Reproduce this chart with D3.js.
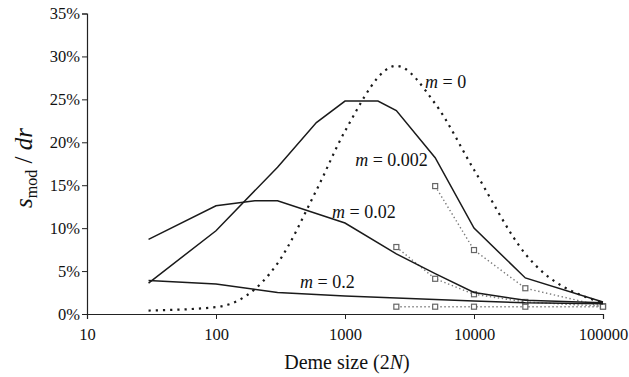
<!DOCTYPE html>
<html>
<head>
<meta charset="utf-8">
<script src="https://cdn.jsdelivr.net/npm/d3@7"></script>
<style>
  body { margin: 0; background: #fff; }
</style>
</head>
<body>
<div id="chart"></div>
<script>
// model curves (deme size -> s_mod/dr, in %)
var m0X = [30, 100, 300, 600, 1000, 2500, 5000, 10000, 25000, 100000];
var m0Y = [0.4, 0.8, 5.9, 14.4, 21.3, 28.9, 24.5, 16.8, 7.0, 1.3];

var m002X = [30, 100, 300, 600, 1000, 1800, 2500, 5000, 10000, 25000, 100000];
var m002Y = [3.6, 9.7, 17.1, 22.3, 24.8, 24.8, 23.7, 18.2, 10.0, 4.2, 1.4];

var m02X = [30, 100, 200, 300, 1000, 2500, 5000, 10000, 25000, 100000];
var m02Y = [8.7, 12.6, 13.2, 13.2, 10.6, 7.0, 4.7, 2.5, 1.6, 1.3];

var m2X = [30, 100, 300, 1000, 10000, 25000, 100000];
var m2Y = [3.9, 3.5, 2.5, 2.1, 1.5, 1.3, 1.2];

// simulation points (squares)
var simAX = [5000, 10000, 25000, 100000];
var simAY = [14.9, 7.45, 3.0, 0.9];
var simBX = [2500, 5000, 10000, 25000, 100000];
var simBY = [7.8, 4.1, 2.3, 1.4, 0.9];
var simCX = [2500, 5000, 10000, 25000, 100000];
var simCY = [0.85, 0.85, 0.85, 0.85, 0.85];

var xTicks = [10, 100, 1000, 10000, 100000];
var yTicks = [0, 5, 10, 15, 20, 25, 30, 35];

var labels = [
  {num: '0', x: 4170, y: 26.3},
  {num: '0.002', x: 1200, y: 17.2},
  {num: '0.02', x: 793, y: 11.2},
  {num: '0.2', x: 448, y: 3.0}
];

var FONT = '"Liberation Serif", "Times New Roman", serif';

var width = 629, height = 377;
var m = {l: 87, r: 26, t: 13.5, b: 63};

var svg = d3.select('#chart').append('svg')
  .attr('width', width)
  .attr('height', height)
  .attr('font-family', FONT);

var xScale = d3.scaleLog().domain([10, 100000]).range([m.l, width - m.r]);
var yScale = d3.scaleLinear().domain([0, 35]).range([height - m.b, m.t]);

function zip(xs, ys) {
  return xs.map(function(d, i) { return {x: d, y: ys[i]}; });
}

var line = d3.line()
  .x(function(d) { return xScale(d.x); })
  .y(function(d) { return yScale(d.y); });

var smooth = d3.line()
  .curve(d3.curveMonotoneX)
  .x(function(d) { return xScale(d.x); })
  .y(function(d) { return yScale(d.y); });

// axes
var xAxis = d3.axisBottom(xScale).tickValues(xTicks).tickFormat(d3.format('d')).tickSize(5);
var yAxis = d3.axisLeft(yScale).tickValues(yTicks).tickFormat(function(d) { return d + '%'; }).tickSize(5);

svg.append('g')
  .attr('class', 'x-axis')
  .attr('transform', 'translate(0,' + yScale(0) + ')')
  .call(xAxis)
  .call(function(g) {
    g.attr('font-family', FONT);
    g.select('.domain').attr('stroke', '#222').attr('stroke-width', 1.2);
    g.selectAll('.tick line').attr('stroke', '#222');
    g.selectAll('.tick text').attr('font-size', 16.5).attr('dy', '1.1em').attr('fill', '#111');
  });

svg.append('g')
  .attr('class', 'y-axis')
  .attr('transform', 'translate(' + xScale(10) + ',0)')
  .call(yAxis)
  .call(function(g) {
    g.attr('font-family', FONT);
    g.select('.domain').attr('stroke', '#222').attr('stroke-width', 1.2);
    g.selectAll('.tick line').attr('stroke', '#222');
    g.selectAll('.tick text').attr('font-size', 16.5).attr('x', -7).attr('fill', '#111');
  });

// simulations: grey dotted lines with square markers
var sims = [zip(simAX, simAY), zip(simBX, simBY), zip(simCX, simCY)];
var simG = svg.append('g').attr('class', 'sims');
sims.forEach(function(s) {
  simG.append('path')
    .attr('d', line(s))
    .attr('fill', 'none')
    .attr('stroke', '#7a7a7a')
    .attr('stroke-width', 1.4)
    .attr('stroke-dasharray', '1.4,2.6');
});

// model curves
var solid = [zip(m002X, m002Y), zip(m02X, m02Y), zip(m2X, m2Y)];
var lineG = svg.append('g').attr('class', 'lines');
solid.forEach(function(s) {
  lineG.append('path')
    .attr('d', line(s))
    .attr('fill', 'none')
    .attr('stroke', '#1a1a1a')
    .attr('stroke-width', 1.5);
});

lineG.append('path')
  .attr('d', smooth(zip(m0X, m0Y)))
  .attr('fill', 'none')
  .attr('stroke', '#1a1a1a')
  .attr('stroke-width', 2.2)
  .attr('stroke-dasharray', '2.2,5');

sims.forEach(function(s) {
  simG.selectAll(null)
    .data(s)
    .enter()
    .append('rect')
    .attr('x', function(d) { return xScale(d.x) - 2.5; })
    .attr('y', function(d) { return yScale(d.y) - 2.5; })
    .attr('width', 5)
    .attr('height', 5)
    .attr('fill', '#fff')
    .attr('stroke', '#666')
    .attr('stroke-width', 1.2);
});

// curve labels
var lab = svg.append('g').attr('class', 'labels');
labels.forEach(function(l) {
  var t = lab.append('text')
    .attr('x', xScale(l.x))
    .attr('y', yScale(l.y))
    .attr('font-size', 18)
    .attr('fill', '#111');
  t.append('tspan').attr('font-style', 'italic').text('m');
  t.append('tspan').text(' = ' + l.num);
});

// axis titles
svg.append('text')
  .attr('x', (xScale(10) + xScale(100000)) / 2 + 2)
  .attr('y', 369)
  .attr('text-anchor', 'middle')
  .attr('font-size', 20)
  .attr('fill', '#111')
  .call(function(t) {
    t.append('tspan').text('Deme size (2');
    t.append('tspan').attr('font-style', 'italic').text('N');
    t.append('tspan').text(')');
  });

var yt = svg.append('text')
  .attr('transform', 'translate(32,168) rotate(-90)')
  .attr('text-anchor', 'middle')
  .attr('font-size', 25)
  .attr('fill', '#111');
yt.append('tspan').attr('font-style', 'italic').text('s');
yt.append('tspan').attr('font-size', 16).attr('dy', 5).text('mod');
yt.append('tspan').attr('dy', -5).text(' / ');
yt.append('tspan').attr('font-style', 'italic').text('dr');
</script>
</body>
</html>
